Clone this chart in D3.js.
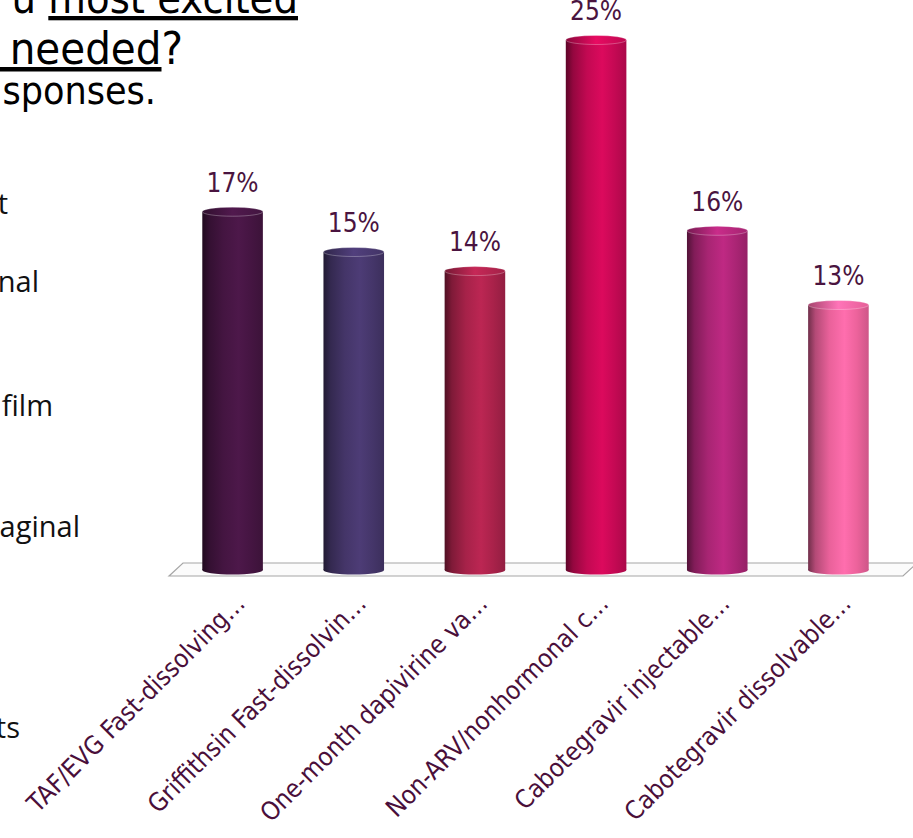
<!DOCTYPE html>
<html><head><meta charset="utf-8">
<script src="https://cdn.jsdelivr.net/npm/d3@7"></script>
<style>body{margin:0;background:#fff}svg{display:block}</style>
</head><body>
<script>
// ---- data ----
const categories = ["TAF/EVG Fast-dissolving…","Griffithsin Fast-dissolvin…","One-month dapivirine va…","Non-ARV/nonhormonal c…","Cabotegravir injectable…","Cabotegravir dissolvable…"];
const values = [16.9, 15.0, 14.1, 25.0, 16.0, 12.5];
const barColors = ["#4a1747","#4a3a72","#b52550","#d40a5a","#b8287e","#ff6aa8"];
const titleLine1 = [["u ", false], ["most excited", true]];
const titleLine2 = [[" needed", true], ["?", false]];
const titleLine3 = [["sponses.", false]];
const sideFragments = ["t","nal","film","aginal","ts"];

// ---- layout ----
const W = 913, H = 838;
const svg = d3.select("body").append("svg").attr("width", W).attr("height", H);
const defs = svg.append("defs");

const x = d3.scaleBand().domain(categories).range([172, 899]).paddingInner(0.5).paddingOuter(0.25);
const y = d3.scaleLinear().domain([0, 25]).range([570, 40]);

// title fragments (clipped slide text)
const titleFont = "'DejaVu Sans Condensed','DejaVu Sans',sans-serif";
function titleLine(parts, xEnd, yBase, size){
  const t = svg.append("text").attr("x", xEnd).attr("y", yBase).attr("text-anchor","end")
    .attr("font-family", titleFont).attr("font-size", size).attr("fill","#000")
    .attr("xml:space","preserve").style("white-space","pre");
  parts.forEach(([s,u]) => t.append("tspan").text(s).attr("text-decoration", u ? "underline" : null));
}
titleLine(titleLine1, 298, 13, 43);
titleLine(titleLine2, 183, 64, 45);
titleLine(titleLine3, 156, 104, 39);

// left side fragments
const fragX = [8, 39, 53, 80, 20];
const fragY = [214, 292, 416, 537, 738];
svg.append("g").selectAll("text").data(sideFragments).join("text")
  .attr("x", (d,i)=>fragX[i]).attr("y", (d,i)=>fragY[i]).attr("text-anchor","end")
  .attr("font-family","'Open Sans','Noto Sans',sans-serif").attr("font-size",29).attr("fill","#111")
  .text(d=>d);

// floor
const [r0, r1] = x.range();
const y0 = y(0);
const floorPts = [[r0-3, y0+6],[r0+11, y0-7],[r1+18, y0-7],[r1+4, y0+6]];
svg.append("polygon").attr("points", floorPts.map(p=>p.join(",")).join(" "))
  .attr("fill","#fbfbfb").attr("stroke","#a6a6a6").attr("stroke-width",1.2);

// gradients
barColors.forEach((c,i)=>{
  const base = d3.color(c);
  const g = defs.append("linearGradient").attr("id","g"+i).attr("x1","0%").attr("x2","100%");
  [[0, base.darker(2.3)],[0.12, base.darker(1.0)],[0.35, base.darker(0.25)],[0.6, base.brighter(0.1)],[0.8, base.darker(0.2)],[1, base.darker(0.6)]]
    .forEach(([o,col])=>g.append("stop").attr("offset",o).attr("stop-color",col.formatHex()));
  const gt = defs.append("linearGradient").attr("id","t"+i).attr("x1","0%").attr("x2","100%");
  [[0, base.darker(1.2)],[0.5, base.brighter(0.25)],[1, base.darker(0.3)]]
    .forEach(([o,col])=>gt.append("stop").attr("offset",o).attr("stop-color",col.formatHex()));
});

const bw = x.bandwidth();
const ry = 4.5;
const bars = svg.append("g").selectAll("g").data(categories).join("g");
bars.append("ellipse").attr("cx", d=>x(d)+bw/2).attr("cy", y0).attr("rx", bw/2).attr("ry", ry)
  .attr("fill",(d,i)=>`url(#g${i})`);
bars.append("rect").attr("x", d=>x(d)).attr("width", bw)
  .attr("y",(d,i)=>y(values[i])).attr("height",(d,i)=>y0 - y(values[i]))
  .attr("fill",(d,i)=>`url(#g${i})`);
bars.append("ellipse").attr("cx", d=>x(d)+bw/2).attr("cy",(d,i)=>y(values[i])).attr("rx", bw/2).attr("ry", ry)
  .attr("fill",(d,i)=>`url(#t${i})`).attr("stroke","rgba(255,255,255,0.35)").attr("stroke-width",0.8);

// value labels
svg.append("g").selectAll("text").data(categories).join("text")
  .attr("x", d=>x(d)+bw/2).attr("y",(d,i)=>y(values[i]) - 20)
  .attr("text-anchor","middle").attr("font-family",titleFont).attr("font-size",26).attr("fill","#4a1440")
  .text((d,i)=>Math.round(values[i]) + "%");

// category labels
svg.append("g").selectAll("text").data(categories).join("text")
  .attr("transform", d=>`translate(${x(d)+bw/2+14},${y0+35}) rotate(-45)`)
  .attr("text-anchor","end").attr("font-family",titleFont).attr("font-size",25.5).attr("fill","#4a0f3a")
  .text(d=>d);
</script>
</body></html>
